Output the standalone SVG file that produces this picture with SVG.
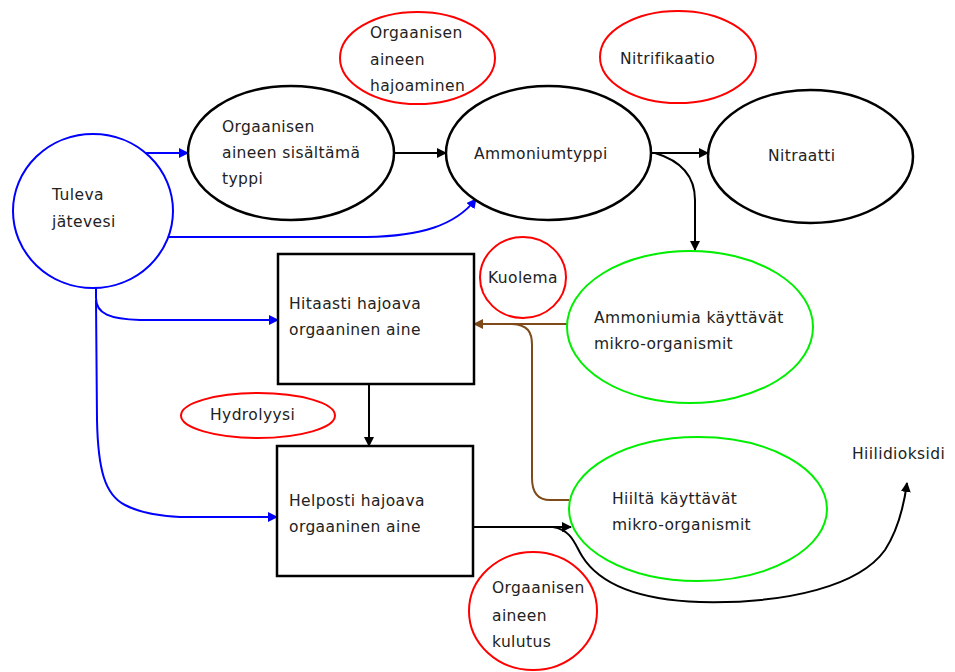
<svg xmlns="http://www.w3.org/2000/svg" width="955" height="672" viewBox="0 0 955 672">
<style>
  text { font-family: "DejaVu Sans", Verdana, sans-serif; font-size: 15.5px; letter-spacing: 0.4px; fill: #222; }
  .blk { fill: #fff; stroke: #000; stroke-width: 2.5; }
  .red { fill: #fff; stroke: #ff0000; stroke-width: 2; }
  .grn { fill: #fff; stroke: #00ee00; stroke-width: 2; }
  .blu { fill: #fff; stroke: #0000ff; stroke-width: 2; }
  .c { fill: none; stroke-width: 2; }
  .cb { stroke: #000; }
  .cu { stroke: #0000ff; }
  .cr { stroke: #7f4a1a; }
</style>
<defs>
  <marker id="ab" markerUnits="userSpaceOnUse" markerWidth="10" markerHeight="10" refX="9" refY="5" orient="auto"><path d="M0,0 L10,5 L0,10 z" fill="#000"/></marker>
  <marker id="au" markerUnits="userSpaceOnUse" markerWidth="10" markerHeight="10" refX="9" refY="5" orient="auto"><path d="M0,0 L10,5 L0,10 z" fill="#0000ff"/></marker>
  <marker id="ar" markerUnits="userSpaceOnUse" markerWidth="10" markerHeight="10" refX="9" refY="5" orient="auto"><path d="M0,0 L10,5 L0,10 z" fill="#7f4a1a"/></marker>
</defs>
<rect width="955" height="672" fill="#fff"/>

<g id="connectors">
  <path class="c cu" d="M146 153 H188" marker-end="url(#au)"/>
  <path class="c cu" d="M168 237 H367 C420 236 455 226 476 199" marker-end="url(#au)"/>
  <path class="c cb" d="M394 153 H446" marker-end="url(#ab)"/>
  <path class="c cb" d="M651 153 H708" marker-end="url(#ab)"/>
  <path class="c cb" d="M655 153 Q695 165 695 200 V250" marker-end="url(#ab)"/>
  <path class="c cb" d="M369 384 V446" marker-end="url(#ab)"/>
  <path class="c cu" d="M96 286 V298 C96 314 110 319 140 320 H278" marker-end="url(#au)"/>
  <path class="c cu" d="M96 300 L97 420 C98 470 105 495 125 505 C140 513 160 516 180 517 H277" marker-end="url(#au)"/>
  <path class="c cr" d="M567 324 H474" marker-end="url(#ar)"/>
  <path class="c cr" d="M569 500 H550 C538 500 532 492 532 478 V345 C532 332 528 325 512 324"/>
  <path class="c cb" d="M473 527 H571" marker-end="url(#ab)"/>
  <path class="c cb" d="M553 527 C572 530 575 545 582 556 C600 585 640 600 700 602 C790 604 860 585 885 550 C898 530 904 505 907 483" marker-end="url(#ab)"/>
</g>

<g id="tuleva">
  <ellipse class="blu" cx="93" cy="211" rx="80" ry="77"/>
  <text x="52" y="200">Tuleva</text>
  <text x="52" y="227">jätevesi</text>
</g>
<g id="orgtyppi">
  <ellipse class="blk" cx="291" cy="153" rx="103" ry="67"/>
  <text x="222" y="132">Orgaanisen</text>
  <text x="222" y="158">aineen sisältämä</text>
  <text x="222" y="184">typpi</text>
</g>
<g id="hajoaminen">
  <ellipse class="red" cx="417.5" cy="58" rx="77.5" ry="46"/>
  <text x="370" y="38">Orgaanisen</text>
  <text x="370" y="65">aineen</text>
  <text x="370" y="91">hajoaminen</text>
</g>
<g id="ammonium">
  <ellipse class="blk" cx="548.5" cy="153" rx="102.5" ry="67"/>
  <text x="474" y="159">Ammoniumtyppi</text>
</g>
<g id="nitrifikaatio">
  <ellipse class="red" cx="678" cy="57" rx="78" ry="46"/>
  <text x="620" y="64">Nitrifikaatio</text>
</g>
<g id="nitraatti">
  <ellipse class="blk" cx="810.5" cy="156.5" rx="102.5" ry="66.5"/>
  <text x="768" y="161">Nitraatti</text>
</g>
<g id="kuolema">
  <ellipse class="red" cx="523" cy="277.5" rx="43" ry="40.5"/>
  <text x="488" y="283">Kuolema</text>
</g>
<g id="ammoniummikro">
  <ellipse class="grn" cx="690" cy="327" rx="123" ry="76"/>
  <text x="594" y="323">Ammoniumia käyttävät</text>
  <text x="594" y="349">mikro-organismit</text>
</g>
<g id="hitaasti">
  <rect class="blk" x="278" y="254" width="196" height="130"/>
  <text x="289" y="309">Hitaasti hajoava</text>
  <text x="289" y="335">orgaaninen aine</text>
</g>
<g id="hydrolyysi">
  <ellipse class="red" cx="258" cy="415.5" rx="77" ry="22.5"/>
  <text x="210" y="420">Hydrolyysi</text>
</g>
<g id="helposti">
  <rect class="blk" x="277" y="446" width="196" height="130"/>
  <text x="289" y="506">Helposti hajoava</text>
  <text x="289" y="532">orgaaninen aine</text>
</g>
<g id="hiilimikro">
  <ellipse class="grn" cx="698" cy="509" rx="129" ry="72"/>
  <text x="612" y="504">Hiiltä käyttävät</text>
  <text x="612" y="530">mikro-organismit</text>
</g>
<g id="kulutus">
  <ellipse class="red" cx="533" cy="611" rx="64" ry="59"/>
  <text x="492" y="593">Orgaanisen</text>
  <text x="492" y="621">aineen</text>
  <text x="492" y="647">kulutus</text>
</g>
<g id="hiilidioksidi">
  <text x="852" y="459">Hiilidioksidi</text>
</g>
</svg>
